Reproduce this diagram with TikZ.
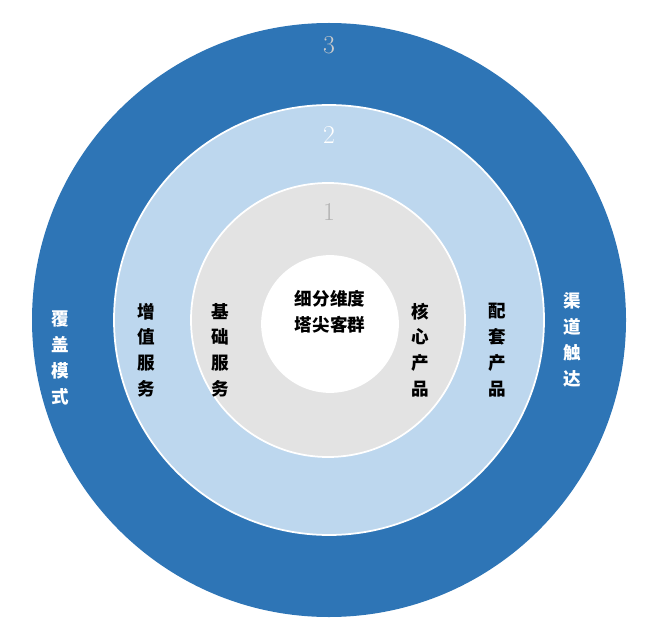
\documentclass[tikz,border=0pt]{standalone}
\usepackage{fontspec}
\newfontfamily\cjk{Noto Sans CJK SC}
\definecolor{ringA}{HTML}{2E75B6}
\definecolor{ringB}{HTML}{BDD7EE}
\definecolor{ringC}{HTML}{E3E3E3}
\tikzset{
 ring/.style={draw=white,line width=1.5pt},
 lbl/.style={font=\cjk\fontsize{15}{22}\selectfont\bfseries,align=center},
 num/.style={font=\fontsize{22}{24}\selectfont}
}
\begin{document}
\begin{tikzpicture}[x=0.03cm,y=-0.03cm]
\useasboundingbox (0,0) rectangle (653,626);
\fill[ringA] (329,320) circle (297);
\draw[ring,fill=ringB] (329,320) circle (215);
\draw[ring,fill=ringC] (328,320) circle (137);
\draw[ring,fill=white] (330,324) circle (68);
\node[num,text=gray!40] (n3) at (329,45) {3};
\node[num,text=white] (n2) at (329,135) {2};
\node[num,text=gray!60] (n1) at (329,212) {1};
\node[lbl] (c) at (330,312) {细分维度\\塔尖客群};
\node[lbl,text=white] (a1) at (60,358) {覆\\盖\\模\\式};
\node[lbl,text=white] (a2) at (572,340) {渠\\道\\触\\达};
\node[lbl] (b1) at (146,350) {增\\值\\服\\务};
\node[lbl] (b2) at (497,350) {配\\套\\产\\品};
\node[lbl] (d1) at (220,350) {基\\础\\服\\务};
\node[lbl] (d2) at (420,350) {核\\心\\产\\品};
\end{tikzpicture}
\end{document}
